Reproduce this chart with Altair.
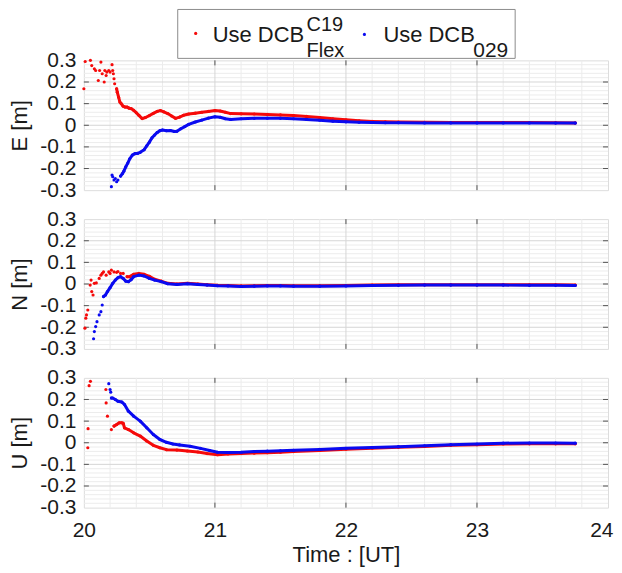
import altair as alt
import pandas as pd

# ---------------- data ----------------
# E component
E_RED_T = [20.000, 20.010, 20.050, 20.060, 20.080, 20.090, 20.110, 20.120, 20.130, 20.140,
           20.155, 20.160, 20.170, 20.175, 20.190, 20.200, 20.215, 20.220, 20.225, 20.230,
           20.235, 20.250, 20.255, 20.265, 20.275, 20.285, 20.300, 20.315, 20.330, 20.345,
           20.360, 20.380, 20.400, 20.420, 20.445, 20.470, 20.500, 20.530, 20.560, 20.585,
           20.610, 20.640, 20.670, 20.700, 20.730, 20.760, 20.800, 20.850, 20.900, 20.950,
           21.000, 21.040, 21.080, 21.120, 21.200, 21.300, 21.400, 21.500, 21.600, 21.700,
           21.800, 21.900, 22.000, 22.100, 22.200, 22.300, 22.400, 22.600, 22.800, 23.000,
           23.200, 23.400, 23.600, 23.750]
E_RED_V = [0.169, 0.295, 0.300, 0.276, 0.261, 0.253, 0.207, 0.253, 0.292, 0.238,
           0.200, 0.253, 0.230, 0.246, 0.253, 0.246, 0.280, 0.253, 0.238, 0.215,
           0.192, 0.169, 0.153, 0.130, 0.107, 0.100, 0.088, 0.084, 0.084, 0.079,
           0.077, 0.069, 0.058, 0.046, 0.031, 0.036, 0.045, 0.055, 0.064, 0.068,
           0.062, 0.054, 0.043, 0.032, 0.038, 0.046, 0.052, 0.056, 0.060, 0.064,
           0.068, 0.066, 0.060, 0.054, 0.053, 0.052, 0.050, 0.048, 0.045, 0.041,
           0.036, 0.030, 0.025, 0.021, 0.018, 0.016, 0.015, 0.014, 0.013, 0.013,
           0.013, 0.013, 0.012, 0.011]
E_BLUE_T = [20.210, 20.215, 20.220, 20.230, 20.240, 20.250, 20.260, 20.280, 20.295, 20.305,
            20.320, 20.335, 20.350, 20.370, 20.390, 20.410, 20.430, 20.460, 20.480, 20.500,
            20.520, 20.540, 20.560, 20.580, 20.600, 20.630, 20.660, 20.690, 20.710, 20.740,
            20.770, 20.800, 20.850, 20.900, 20.950, 21.000, 21.040, 21.080, 21.120, 21.200,
            21.300, 21.400, 21.500, 21.600, 21.700, 21.800, 21.900, 22.000, 22.100, 22.200,
            22.300, 22.400, 22.600, 22.800, 23.000, 23.200, 23.400, 23.600, 23.750]
E_BLUE_V = [-0.284, -0.230, -0.238, -0.253, -0.246, -0.261, -0.253, -0.235, -0.223, -0.212,
            -0.192, -0.175, -0.155, -0.138, -0.131, -0.130, -0.125, -0.113, -0.095, -0.078,
            -0.058, -0.045, -0.033, -0.025, -0.022, -0.025, -0.024, -0.029, -0.028, -0.016,
            -0.006, 0.004, 0.015, 0.024, 0.033, 0.039, 0.037, 0.030, 0.027, 0.030,
            0.032, 0.033, 0.032, 0.030, 0.027, 0.023, 0.019, 0.016, 0.014, 0.013,
            0.012, 0.012, 0.011, 0.011, 0.011, 0.011, 0.011, 0.010, 0.010]

# N component
N_RED_T = [20.008, 20.015, 20.020, 20.030, 20.048, 20.055, 20.060, 20.070, 20.080, 20.095,
           20.117, 20.130, 20.140, 20.150, 20.170, 20.190, 20.200, 20.210, 20.230, 20.250,
           20.260, 20.280, 20.300, 20.330, 20.350, 20.380, 20.420, 20.460, 20.500, 20.540,
           20.590, 20.640, 20.710, 20.790, 20.870, 20.940, 21.020, 21.100, 21.200, 21.300,
           21.400, 21.500, 21.600, 21.800, 22.000, 22.200, 22.400, 22.600, 22.800, 23.000,
           23.200, 23.400, 23.600, 23.750]
N_RED_V = [-0.204, -0.158, -0.143, -0.120, -0.005, 0.018, -0.035, -0.051, 0.003, 0.005,
           0.026, 0.041, 0.049, 0.056, 0.041, 0.056, 0.049, 0.064, 0.056, 0.054,
           0.058, 0.049, 0.049, 0.034, 0.034, 0.045, 0.049, 0.045, 0.035, 0.022,
           0.013, 0.003, 0.000, 0.003, 0.000, -0.003, -0.006, -0.007, -0.009, -0.008,
           -0.007, -0.007, -0.008, -0.008, -0.007, -0.005, -0.004, -0.003, -0.003, -0.003,
           -0.003, -0.004, -0.004, -0.005]
N_BLUE_T = [20.074, 20.080, 20.090, 20.100, 20.117, 20.130, 20.140, 20.150, 20.165, 20.180,
            20.200, 20.220, 20.240, 20.260, 20.280, 20.300, 20.320, 20.340, 20.360, 20.380,
            20.420, 20.460, 20.500, 20.540, 20.590, 20.640, 20.710, 20.790, 20.870, 20.940,
            21.020, 21.100, 21.200, 21.300, 21.400, 21.500, 21.600, 21.800, 22.000, 22.200,
            22.400, 22.600, 22.800, 23.000, 23.200, 23.400, 23.600, 23.750]
N_BLUE_V = [-0.253, -0.220, -0.197, -0.174, -0.143, -0.128, -0.097, -0.058, -0.051, -0.035,
            -0.017, 0.003, 0.018, 0.029, 0.034, 0.026, 0.013, 0.011, 0.020, 0.034,
            0.041, 0.037, 0.026, 0.018, 0.011, 0.001, -0.002, 0.001, -0.002, -0.005,
            -0.008, -0.009, -0.011, -0.010, -0.009, -0.009, -0.010, -0.010, -0.009, -0.007,
            -0.006, -0.005, -0.005, -0.005, -0.005, -0.006, -0.006, -0.007]

# U component
U_RED_T = [20.030, 20.032, 20.040, 20.050, 20.168, 20.170, 20.180, 20.210, 20.230, 20.250,
           20.270, 20.290, 20.300, 20.310, 20.340, 20.380, 20.430, 20.480, 20.530, 20.580,
           20.630, 20.710, 20.790, 20.870, 20.940, 21.020, 21.100, 21.200, 21.300, 21.400,
           21.500, 21.600, 21.800, 22.000, 22.200, 22.400, 22.600, 22.800, 23.000, 23.200,
           23.400, 23.600, 23.750]
U_RED_V = [-0.023, 0.065, 0.264, 0.284, 0.246, 0.184, 0.123, 0.061, 0.077, 0.084,
           0.092, 0.092, 0.090, 0.069, 0.061, 0.046, 0.031, 0.008, -0.012, -0.023,
           -0.032, -0.034, -0.038, -0.043, -0.050, -0.055, -0.052, -0.050, -0.048, -0.046,
           -0.044, -0.041, -0.036, -0.030, -0.025, -0.021, -0.017, -0.012, -0.009, -0.006,
           -0.005, -0.005, -0.005]
U_BLUE_T = [20.190, 20.200, 20.205, 20.210, 20.220, 20.240, 20.260, 20.290, 20.310, 20.340,
            20.380, 20.430, 20.480, 20.530, 20.580, 20.630, 20.680, 20.730, 20.810, 20.890,
            20.960, 21.020, 21.100, 21.200, 21.300, 21.400, 21.500, 21.600, 21.800, 22.000,
            22.200, 22.400, 22.600, 22.800, 23.000, 23.200, 23.400, 23.600, 23.750]
U_BLUE_V = [0.273, 0.246, 0.234, 0.207, 0.207, 0.200, 0.192, 0.188, 0.177, 0.146,
            0.123, 0.100, 0.069, 0.038, 0.015, 0.002, -0.006, -0.010, -0.016, -0.026,
            -0.036, -0.044, -0.045, -0.044, -0.041, -0.039, -0.037, -0.035, -0.031, -0.026,
            -0.022, -0.018, -0.014, -0.009, -0.006, -0.002, -0.001, -0.001, -0.002]

# time from which the dots form a continuous trail
TRAIL_START = {"E": (20.25, 20.28), "N": (20.33, 20.15), "U": (20.23, 20.21)}

X_TICKS = [20, 21, 22, 23, 24]
Y_TICKS = [-0.3, -0.2, -0.1, 0, 0.1, 0.2, 0.3]

# ---------------- styling ----------------
W, H = 525, 130
RED, BLUE = "#f50a0a", "#0a0af0"
FONT = "Liberation Sans"
TXT = "#1a1a1a"

x_minor = pd.DataFrame({"t": [round(20 + 0.2 * i, 2) for i in range(1, 20) if i % 5]})
x_major = pd.DataFrame({"t": X_TICKS[1:-1]})
y_minor = pd.DataFrame({"v": [round(-0.3 + 0.02 * i, 3) for i in range(1, 30) if i % 5]})
y_major = pd.DataFrame({"v": Y_TICKS[1:-1]})


def panel(name, red_t, red_v, blue_t, blue_v, show_x, legend=False):
    xaxis = None
    if show_x:
        last = X_TICKS[-1]
        xaxis = alt.Axis(values=X_TICKS, format="d", ticks=False, domain=False, grid=False,
                         labelFlush=False, labelOverlap=False,
                         labelAlign={"condition": {"test": f"datum.value == {last}", "value": "right"},
                                     "value": "center"},
                         labelOffset={"condition": {"test": f"datum.value == {last}", "value": 5},
                                      "value": 0},
                         labelFontSize=21, labelPadding=12, labelColor=TXT, labelFont=FONT,
                         title="Time : [UT]", titleFontSize=22, titleFontWeight="normal",
                         titleColor=TXT, titleFont=FONT, titlePadding=4)
    yaxis = alt.Axis(values=Y_TICKS, ticks=False, domain=False, grid=False,
                     labelFlush=False, labelOverlap=False,
                     labelExpr="datum.value == 0 ? '0' : (datum.value < 0 ? '-' : '') + format(abs(datum.value), '.1f')",
                     labelFontSize=21, labelPadding=8, labelColor=TXT, labelFont=FONT,
                     title=f"{name} [m]", titleFontSize=22, titleFontWeight="normal",
                     titleColor=TXT, titleFont=FONT, titlePadding=8)
    X = alt.X("t:Q", scale=alt.Scale(domain=[20, 24], nice=False, zero=False), axis=xaxis, title="Time : [UT]" if show_x else None)
    Y = alt.Y("v:Q", scale=alt.Scale(domain=[-0.3, 0.3], nice=False, zero=False), axis=yaxis, title=f"{name} [m]")

    layers = [
        alt.Chart(x_minor).mark_rule(color="#ececec", strokeWidth=1).encode(x=X),
        alt.Chart(y_minor).mark_rule(color="#ececec", strokeWidth=1).encode(y=Y),
        alt.Chart(x_major).mark_rule(color="#d6d6d6", strokeWidth=1).encode(x=X),
        alt.Chart(y_major).mark_rule(color="#d6d6d6", strokeWidth=1).encode(y=Y),
        # inside tick marks on all four sides
        alt.Chart(x_major).mark_rule(color="#555555").encode(x=X, y=alt.value(H), y2=alt.value(H - 5)),
        alt.Chart(x_major).mark_rule(color="#555555").encode(x=X, y=alt.value(0), y2=alt.value(5)),
        alt.Chart(y_major).mark_rule(color="#555555").encode(y=Y, x=alt.value(0), x2=alt.value(5)),
        alt.Chart(y_major).mark_rule(color="#555555").encode(y=Y, x=alt.value(W), x2=alt.value(W - 5)),
    ]
    rs, bs = TRAIL_START[name]
    for t, v, col, start in ((red_t, red_v, RED, rs), (blue_t, blue_v, BLUE, bs)):
        df = pd.DataFrame({"t": t, "v": v})
        trail = df[df["t"] >= start]
        layers.append(alt.Chart(trail).mark_line(color=col, strokeWidth=3.0, strokeCap="round",
                                                  strokeJoin="round").encode(x=X, y=Y))
        layers.append(alt.Chart(df).mark_circle(color=col, size=10, opacity=1).encode(x=X, y=Y))

    if legend:
        one = pd.DataFrame({"a": [0]})
        base = alt.Chart(one)
        layers += [
            base.mark_rect(fill="white", stroke="#8c8c8c", strokeWidth=1).encode(
                x=alt.value(94), x2=alt.value(432), y=alt.value(-51), y2=alt.value(-2)),
            base.mark_circle(color=RED, size=10, opacity=1).encode(x=alt.value(112), y=alt.value(-27)),
            base.mark_text(text="Use DCB", font=FONT, fontSize=22, align="left", baseline="alphabetic",
                           color=TXT).encode(x=alt.value(129), y=alt.value(-18)),
            base.mark_text(text="C19", font=FONT, fontSize=20, align="left", baseline="alphabetic",
                           color=TXT).encode(x=alt.value(223), y=alt.value(-29)),
            base.mark_text(text="Flex", font=FONT, fontSize=20, align="left", baseline="alphabetic",
                           color=TXT).encode(x=alt.value(223), y=alt.value(-3)),
            base.mark_circle(color=BLUE, size=10, opacity=1).encode(x=alt.value(281), y=alt.value(-26)),
            base.mark_text(text="Use DCB", font=FONT, fontSize=22, align="left", baseline="alphabetic",
                           color=TXT).encode(x=alt.value(300), y=alt.value(-18)),
            base.mark_text(text="029", font=FONT, fontSize=21, align="left", baseline="alphabetic",
                           color=TXT).encode(x=alt.value(390), y=alt.value(-3)),
        ]
    return alt.layer(*layers).properties(width=W, height=H)


p1 = panel("E", E_RED_T, E_RED_V, E_BLUE_T, E_BLUE_V, show_x=False, legend=True)
p2 = panel("N", N_RED_T, N_RED_V, N_BLUE_T, N_BLUE_V, show_x=False)
p3 = panel("U", U_RED_T, U_RED_V, U_BLUE_T, U_BLUE_V, show_x=True)

chart = alt.vconcat(p1, p2, p3, spacing=29, bounds="flush").properties(
    padding={"left": 0, "top": 0, "right": 0, "bottom": 0}
).configure_view(stroke="#9c9c9c", strokeWidth=1).configure(background="white")

chart.save("out.html", embed_options={"renderer": "svg", "actions": False})
